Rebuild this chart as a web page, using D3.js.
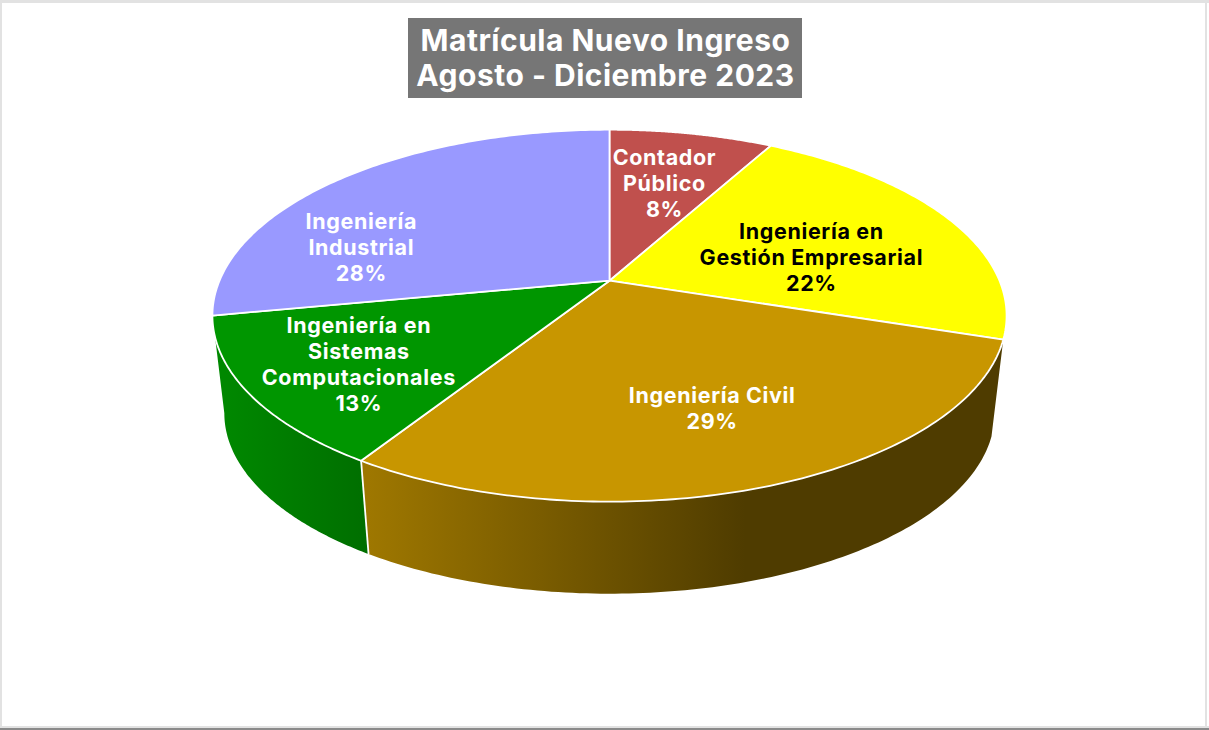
<!DOCTYPE html>
<html><head><meta charset="utf-8">
<script src="https://cdn.jsdelivr.net/npm/d3@7/dist/d3.min.js"></script>
<style>html,body{margin:0;padding:0;background:#fff;overflow:hidden}svg{display:block}
text{font-family:Inter,"Open Sans",sans-serif;font-weight:700}</style></head>
<body><svg id="c" width="1209" height="730"></svg>
<script>
const titleLines = ["Matrícula Nuevo Ingreso", "Agosto - Diciembre 2023"];
const categories = [["Contador","Público"],["Ingeniería en","Gestión Empresarial"],["Ingeniería Civil"],["Ingeniería en","Sistemas","Computacionales"],["Ingeniería","Industrial"]];
const values = [8,22,29,13,28];
const colors = ["#C0504D","#FFFF00","#C89600","#009600","#9999FF"];
const labelColors = ["#fff","#000","#fff","#fff","#fff"];
const labelNudge = [[2.5,-3],[-7,15],[14,14],[-44,19.5],[-80,31]];

const W=1209,H=730, svg=d3.select("#c");
const cx=609.5, cy=280.7, A=390, B=179.4, K=-0.188;
const rimShrink=0.97, vanishY=3570;
const top3d=(t,r=1)=>{const u=r*Math.sin(t),v=-r*Math.cos(t),d=1+K*v;return [cx+A*u/d,cy+B*v/d];};
const low3d=(t)=>{const p=top3d(t);return [cx+rimShrink*(p[0]-cx),vanishY+rimShrink*(p[1]-vanishY)];};
const arcs=d3.pie().sort(null).value(d=>d)(values);
const line=d3.line();
const samples=(a,b)=>d3.range(0,121).map(i=>a+(b-a)*i/120);

// frame
svg.append("rect").attr("width",W).attr("height",H).attr("fill","#fff");
svg.append("rect").attr("x",0).attr("y",0).attr("width",W).attr("height",3).attr("fill","#e2e2e2");
svg.append("rect").attr("x",0).attr("y",0).attr("width",2).attr("height",H).attr("fill","#e2e2e2");
svg.append("rect").attr("x",1205).attr("y",0).attr("width",2).attr("height",H).attr("fill","#e2e2e2");
svg.append("rect").attr("x",0).attr("y",726).attr("width",W).attr("height",2).attr("fill","#e2e2e2");
svg.append("rect").attr("x",0).attr("y",728).attr("width",W).attr("height",2).attr("fill","#8a8a8a");

// gradients
const defs=svg.append("defs");
const grad=(id,x1,x2,stops)=>{const g=defs.append("linearGradient").attr("id",id).attr("gradientUnits","userSpaceOnUse").attr("x1",x1).attr("x2",x2).attr("y1",0).attr("y2",0);
 stops.forEach(s=>g.append("stop").attr("offset",s[0]).attr("stop-color",s[1]));};
grad("gCivil",369,745,[[0,"#9E7700"],[1,"#4F3C00"]]);
grad("gGreen",223,369,[[0,"#008800"],[1,"#006E00"]]);

// sides (Civil, Sistemas are the only visible walls)
[[2,"gCivil"],[3,"gGreen"]].forEach(([i,g])=>{
 const a=arcs[i];
 const pts=samples(a.startAngle,a.endAngle).map(t=>top3d(t)).concat(samples(a.endAngle,a.startAngle).map(low3d));
 svg.append("path").attr("d",line(pts)+"Z").attr("fill",`url(#${g})`);
});
// wall separator
const sep=arcs[2].endAngle;
svg.append("path").attr("d",line([top3d(sep),low3d(sep)])).attr("stroke","#fff").attr("stroke-width",1.8).attr("fill","none");

// top faces
arcs.forEach((a,i)=>{
 const pts=[[cx,cy]].concat(samples(a.startAngle,a.endAngle).map(t=>top3d(t)));
 svg.append("path").attr("d",line(pts)+"Z").attr("fill",colors[i]).attr("stroke","#fff").attr("stroke-width",1.8).attr("stroke-linejoin","round");
});

// title
svg.append("rect").attr("x",408).attr("y",18).attr("width",394).attr("height",80).attr("fill","#767676");
titleLines.forEach((t,i)=>svg.append("text").attr("x",605.5).attr("y",51+i*35).attr("text-anchor","middle").attr("fill","#fff").attr("font-size",30).attr("letter-spacing",0.5).text(t));

// labels
arcs.forEach((a,i)=>{
 const p=top3d((a.startAngle+a.endAngle)/2,0.6), n=labelNudge[i];
 const lines=categories[i].concat([d3.format(".0f")(values[i])+"%"]);
 const x=p[0]+n[0], y=p[1]+n[1], lh=26;
 lines.forEach((s,j)=>svg.append("text").attr("x",x).attr("y",y+(j-(lines.length-1)/2)*lh+7.5).attr("text-anchor","middle").attr("fill",labelColors[i]).attr("font-size",21.5).attr("letter-spacing",0.65).text(s));
});
</script></body></html>
